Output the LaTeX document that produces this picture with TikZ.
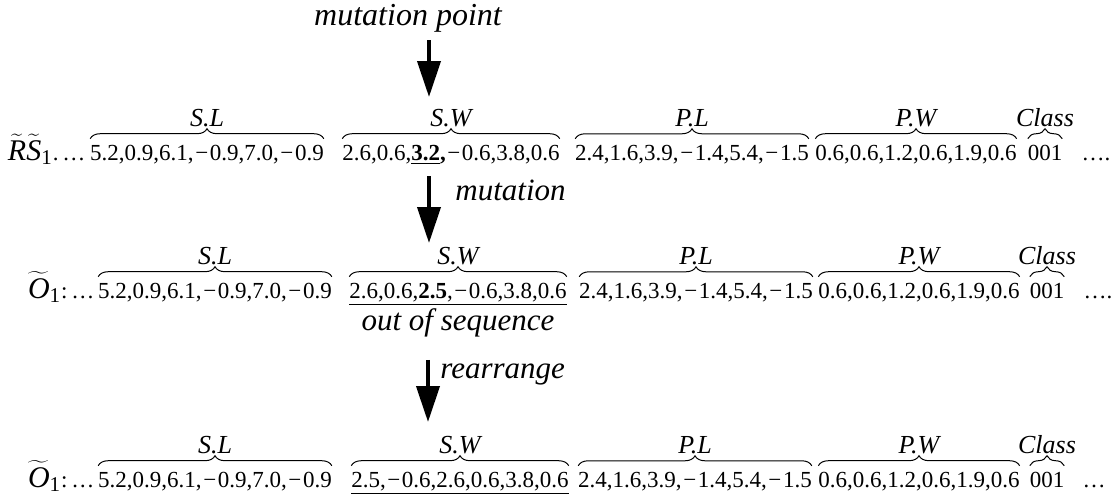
\documentclass[tikz,border=0pt]{standalone}
\usepackage{fontspec}
\setmainfont{Liberation Serif}
\usetikzlibrary{arrows.meta,decorations.pathreplacing,positioning}

\newcommand{\mns}{\kern0.8pt−\kern0.8pt}
\newcommand{\rowRS}{{\fontsize{15}{17}\selectfont$\widetilde{\mbox{\itshape R}}\widetilde{\mbox{\itshape S}}$\textsubscript{1}}}
\newcommand{\rowO}{{\fontsize{15}{17}\selectfont$\widetilde{\mbox{\itshape O}}$\textsubscript{1}}}

\tikzset{
  grp/.style={inner sep=0pt, outer sep=0pt, anchor=base, font=\fontsize{11.5}{13}\selectfont},
  brc/.style={decorate, decoration={brace, amplitude=5pt}, line width=0.5pt},
  brclbl/.style={midway, above=5.5pt, inner sep=0pt, font=\fontsize{13}{15}\selectfont\itshape},
  note/.style={inner sep=0pt, font=\fontsize{15.5}{18}\selectfont\itshape},
  bigarrow/.style={line width=2pt, -{Triangle[length=18pt, width=11.5pt]}},
}

\begin{document}
\begin{tikzpicture}[x=0.5pt, y=-0.5pt]
  \useasboundingbox (0,0) rectangle (1120,495);
  % mutation point
  \node[note, anchor=base, font=\fontsize{16}{18}\selectfont\itshape] (mp) at (408,25) {mutation point};
  \coordinate (hit1) at (429,97);
  \draw[bigarrow, shorten <=4pt] (mp.south -| hit1) -- (hit1);
  % first row
  \node[grp, anchor=base west] (lab1) at (8,160) {\rowRS.\,…};
  \node[grp] (sl1) at (207,160) {5.2,0.9,6.1,\mns0.9,7.0,\mns0.9};
  \node[grp] (sw1) at (451,160) {2.6,0.6,\underline{\textbf{3.2}}\textbf{,}\mns0.6,3.8,0.6};
  \node[grp] (pl1) at (692,160) {2.4,1.6,3.9,\mns1.4,5.4,\mns1.5};
  \node[grp] (pw1) at (916,160) {0.6,0.6,1.2,0.6,1.9,0.6};
  \node[grp] (cl1) at (1045,160) {001};
  \node[grp] (dt1) at (1096,160) {….};
  \draw[brc] ([yshift=3pt]sl1.north west) -- ([yshift=3pt]sl1.north east) node[brclbl] {S.L};
  \draw[brc] ([yshift=3pt]sw1.north west) -- ([yshift=3pt]sw1.north east) node[brclbl] {S.W};
  \draw[brc] ([yshift=3pt]pl1.north west) -- ([yshift=3pt]pl1.north east) node[brclbl] {P.L};
  \draw[brc] ([yshift=3pt]pw1.north west) -- ([yshift=3pt]pw1.north east) node[brclbl] {P.W};
  \draw[brc] ([yshift=3pt]cl1.north west) -- ([yshift=3pt]cl1.north east) node[brclbl] {Class};
  % mutation
  \coordinate (hit2) at (429,243);
  \draw[bigarrow, shorten <=6pt] (sw1.south -| hit2) -- (hit2);
  \node[note, anchor=base west] (mut) at (455,200) {mutation};
  % second row
  \node[grp, anchor=base west] (lab2) at (28,298) {\rowO:\,…};
  \node[grp] (sl2) at (215,298) {5.2,0.9,6.1,\mns0.9,7.0,\mns0.9};
  \node[grp] (sw2) at (458,298) {\underline{2.6,0.6,\textbf{2.5},\mns0.6,3.8,0.6}};
  \node[grp] (pl2) at (696,298) {2.4,1.6,3.9,\mns1.4,5.4,\mns1.5};
  \node[grp] (pw2) at (919,298) {0.6,0.6,1.2,0.6,1.9,0.6};
  \node[grp] (cl2) at (1047,298) {001};
  \node[grp] (dt2) at (1098,298) {….};
  \draw[brc] ([yshift=3pt]sl2.north west) -- ([yshift=3pt]sl2.north east) node[brclbl] {S.L};
  \draw[brc] ([yshift=3pt]sw2.north west) -- ([yshift=3pt]sw2.north east) node[brclbl] {S.W};
  \draw[brc] ([yshift=3pt]pl2.north west) -- ([yshift=3pt]pl2.north east) node[brclbl] {P.L};
  \draw[brc] ([yshift=3pt]pw2.north west) -- ([yshift=3pt]pw2.north east) node[brclbl] {P.W};
  \draw[brc] ([yshift=3pt]cl2.north west) -- ([yshift=3pt]cl2.north east) node[brclbl] {Class};
  \node[note, below=1.5pt of sw2] (oos) {out of sequence};
  % rearrange
  \coordinate (hit3) at (428,422);
  \draw[bigarrow, shorten <=11pt] (oos.south -| hit3) -- (hit3);
  \node[note, anchor=base west] (rea) at (440,378) {rearrange};
  % third row
  \node[grp, anchor=base west] (lab3) at (28,487) {\rowO:\,…};
  \node[grp] (sl3) at (215,487) {5.2,0.9,6.1,\mns0.9,7.0,\mns0.9};
  \node[grp] (sw3) at (460,487) {\underline{2.5,\mns0.6,2.6,0.6,3.8,0.6}};
  \node[grp] (pl3) at (695,487) {2.4,1.6,3.9,\mns1.4,5.4,\mns1.5};
  \node[grp] (pw3) at (919,487) {0.6,0.6,1.2,0.6,1.9,0.6};
  \node[grp] (cl3) at (1047,487) {001};
  \node[grp] (dt3) at (1094,487) {…};
  \draw[brc] ([yshift=3pt]sl3.north west) -- ([yshift=3pt]sl3.north east) node[brclbl] {S.L};
  \draw[brc] ([yshift=3pt]sw3.north west) -- ([yshift=3pt]sw3.north east) node[brclbl] {S.W};
  \draw[brc] ([yshift=3pt]pl3.north west) -- ([yshift=3pt]pl3.north east) node[brclbl] {P.L};
  \draw[brc] ([yshift=3pt]pw3.north west) -- ([yshift=3pt]pw3.north east) node[brclbl] {P.W};
  \draw[brc] ([yshift=3pt]cl3.north west) -- ([yshift=3pt]cl3.north east) node[brclbl] {Class};
\end{tikzpicture}
\end{document}
